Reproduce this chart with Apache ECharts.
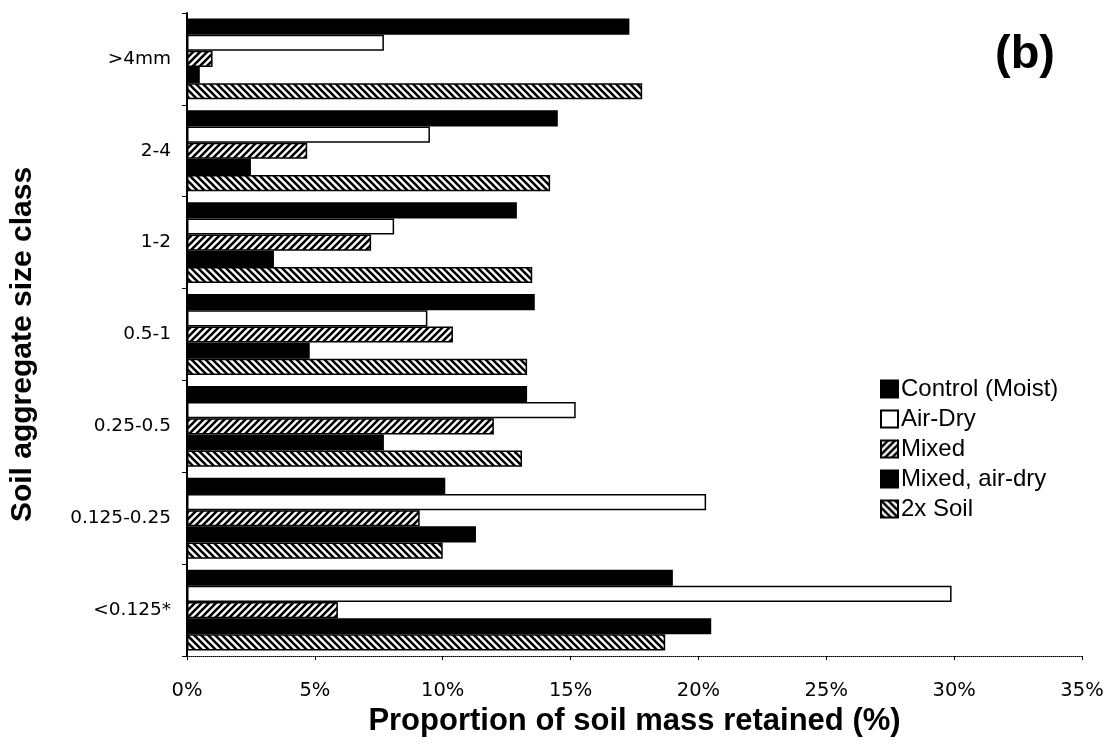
<!DOCTYPE html>
<html><head><meta charset="utf-8">
<script src="https://cdn.jsdelivr.net/npm/echarts@6/dist/echarts.min.js"></script>
<style>html,body{margin:0;padding:0;background:#fff}#c{width:1110px;height:748px}</style>
</head><body><div id="c"></div>
<script>
const categories = ['>4mm','2-4','1-2','0.5-1','0.25-0.5','0.125-0.25','<0.125*'];
const seriesNames = ['Control (Moist)','Air-Dry','Mixed','Mixed, air-dry','2x Soil'];
const controlMoist = [17.3, 14.5, 12.9, 13.6, 13.3, 10.1, 19.0];
const airDry       = [7.7, 9.5, 8.1, 9.4, 15.2, 20.3, 29.9];
const mixed        = [1.0, 4.7, 7.2, 10.4, 12.0, 9.1, 5.9];
const mixedAirDry  = [0.5, 2.5, 3.4, 4.8, 7.7, 11.3, 20.5];
const soil2x       = [17.8, 14.2, 13.5, 13.3, 13.1, 10.0, 18.7];
const xTicks = [0, 5, 10, 15, 20, 25, 30, 35];

const FONT = 'Liberation Sans, Arial, sans-serif';
const TICKFONT = 'DejaVu Sans, sans-serif';

function hatch(forward){
  const s = 7, c = document.createElement('canvas');
  c.width = s; c.height = s;
  const g = c.getContext('2d');
  g.fillStyle = '#fff'; g.fillRect(0,0,s,s);
  g.strokeStyle = '#000'; g.lineWidth = 2.6;
  g.beginPath();
  if (forward) {
    g.moveTo(-2, 2); g.lineTo(2, -2);
    g.moveTo(0, s); g.lineTo(s, 0);
    g.moveTo(s-2, s+2); g.lineTo(s+2, s-2);
  } else {
    g.moveTo(-2, s-2); g.lineTo(2, s+2);
    g.moveTo(0, 0); g.lineTo(s, s);
    g.moveTo(s-2, -2); g.lineTo(s+2, 2);
  }
  g.stroke();
  return {image: c, repeat: 'repeat'};
}

const fills = ['#000', '#fff', hatch(true), '#000', hatch(false)];
const data = [controlMoist, airDry, mixed, mixedAirDry, soil2x];

const chart = echarts.init(document.getElementById('c'), null, {renderer:'canvas'});
chart.setOption({
  animation: false,
  textStyle: {fontFamily: FONT, color: '#000'},
  title: {text: '(b)', left: 990, top: 27, textStyle: {fontSize: 47, fontWeight: 'bold', color: '#000', fontFamily: FONT}},
  grid: {left: 186, right: 28, top: 13, bottom: 92, containLabel: false},
  legend: {
    orient: 'vertical', left: 875, top: 372, itemWidth: 17, itemHeight: 17, itemGap: 6,
    icon: 'rect',
    data: seriesNames,
    textStyle: {fontSize: 24, color: '#000', fontFamily: FONT, padding: [0, 0, 0, -2]}
  },
  xAxis: {
    type: 'value', min: 0, max: 35, interval: 5,
    name: 'Proportion of soil mass retained (%)', nameLocation: 'middle', nameGap: 44,
    nameTextStyle: {fontSize: 31, fontWeight: 'bold', color: '#000', fontFamily: FONT},
    axisLine: {show: true, lineStyle: {color: '#000', width: 1, type: 'dotted'}},
    axisTick: {show: true, length: 4, lineStyle: {color: '#000'}},
    axisLabel: {fontSize: 19.5, color: '#000', margin: 25, fontFamily: TICKFONT, formatter: v => xTicks.includes(v) ? v + '%' : ''},
    splitLine: {show: false}
  },
  yAxis: {
    type: 'category', data: categories, inverse: true,
    name: 'Soil aggregate size class', nameLocation: 'middle', nameGap: 149, nameRotate: 90,
    nameTextStyle: {fontSize: 30, fontWeight: 'bold', color: '#000', fontFamily: FONT, padding: [0, 20, 0, 0]},
    axisLine: {show: true, lineStyle: {color: '#000', width: 2}},
    axisTick: {show: true, length: 5, inside: false, lineStyle: {color: '#000'}},
    axisLabel: {fontSize: 18.5, color: '#000', margin: 16, fontFamily: TICKFONT}
  },
  series: seriesNames.map((n, i) => ({
    name: n, type: 'bar', data: data[i],
    barGap: '0%', barCategoryGap: '12%',
    itemStyle: {color: fills[i], borderColor: '#000', borderWidth: 1.5}
  }))
});
</script></body></html>
